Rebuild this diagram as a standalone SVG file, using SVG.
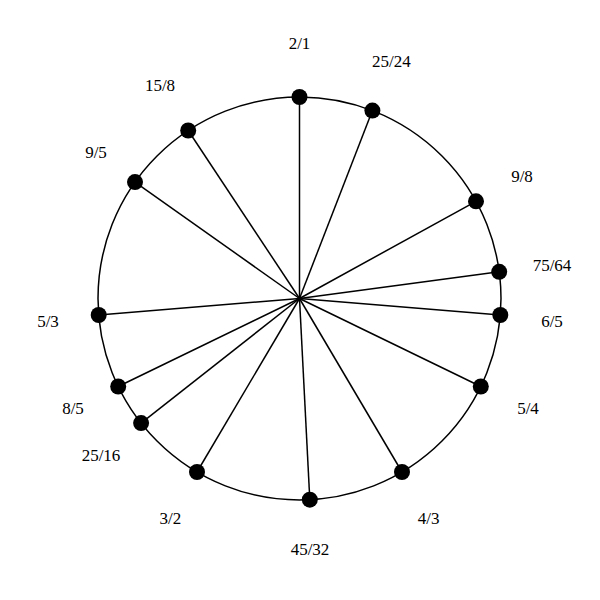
<svg xmlns="http://www.w3.org/2000/svg" width="600" height="600" viewBox="0 0 600 600">
<style>
.ln{stroke:#000;stroke-width:1.5;fill:none}
.dot{fill:#000}
text{font-family:"Liberation Serif","Times New Roman",serif;font-size:17px;text-anchor:middle;fill:#000}
</style>
<rect width="600" height="600" fill="#fff"/>
<circle id="ring" class="ln" cx="299.5" cy="298.5" r="201.5"/>
<g id="connectors">
<line class="ln" x1="299.5" y1="298.5" x2="299.5" y2="97"/>
<line class="ln" x1="299.5" y1="298.5" x2="372.4" y2="110.6"/>
<line class="ln" x1="299.5" y1="298.5" x2="476.0" y2="201.3"/>
<line class="ln" x1="299.5" y1="298.5" x2="499.2" y2="271.8"/>
<line class="ln" x1="299.5" y1="298.5" x2="500.3" y2="315.0"/>
<line class="ln" x1="299.5" y1="298.5" x2="480.8" y2="386.5"/>
<line class="ln" x1="299.5" y1="298.5" x2="402.0" y2="472.0"/>
<line class="ln" x1="299.5" y1="298.5" x2="309.8" y2="499.7"/>
<line class="ln" x1="299.5" y1="298.5" x2="197.0" y2="472.0"/>
<line class="ln" x1="299.5" y1="298.5" x2="141.1" y2="423.1"/>
<line class="ln" x1="299.5" y1="298.5" x2="118.2" y2="386.5"/>
<line class="ln" x1="299.5" y1="298.5" x2="98.7" y2="315.0"/>
<line class="ln" x1="299.5" y1="298.5" x2="135.0" y2="182.1"/>
<line class="ln" x1="299.5" y1="298.5" x2="188.2" y2="130.5"/>
</g>
<g id="n-2-1"><circle class="dot" cx="299.5" cy="97" r="8"/><text x="299.5" y="49">2/1</text></g>
<g id="n-25-24"><circle class="dot" cx="372.4" cy="110.6" r="8"/><text x="391.3" y="67">25/24</text></g>
<g id="n-9-8"><circle class="dot" cx="476.0" cy="201.3" r="8"/><text x="522" y="182">9/8</text></g>
<g id="n-75-64"><circle class="dot" cx="499.2" cy="271.8" r="8"/><text x="552" y="271">75/64</text></g>
<g id="n-6-5"><circle class="dot" cx="500.3" cy="315.0" r="8"/><text x="552" y="327">6/5</text></g>
<g id="n-5-4"><circle class="dot" cx="480.8" cy="386.5" r="8"/><text x="528" y="414">5/4</text></g>
<g id="n-4-3"><circle class="dot" cx="402.0" cy="472.0" r="8"/><text x="428.7" y="524">4/3</text></g>
<g id="n-45-32"><circle class="dot" cx="309.8" cy="499.7" r="8"/><text x="310" y="555">45/32</text></g>
<g id="n-3-2"><circle class="dot" cx="197.0" cy="472.0" r="8"/><text x="170.3" y="524">3/2</text></g>
<g id="n-25-16"><circle class="dot" cx="141.1" cy="423.1" r="8"/><text x="101" y="461">25/16</text></g>
<g id="n-8-5"><circle class="dot" cx="118.2" cy="386.5" r="8"/><text x="73" y="414">8/5</text></g>
<g id="n-5-3"><circle class="dot" cx="98.7" cy="315.0" r="8"/><text x="48" y="327">5/3</text></g>
<g id="n-9-5"><circle class="dot" cx="135.0" cy="182.1" r="8"/><text x="96" y="158">9/5</text></g>
<g id="n-15-8"><circle class="dot" cx="188.2" cy="130.5" r="8"/><text x="160" y="91">15/8</text></g>
</svg>
